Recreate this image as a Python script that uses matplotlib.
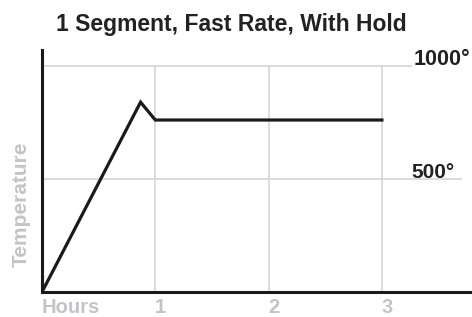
import matplotlib.pyplot as plt

# profile: ramp up, small overshoot, then hold
hours = [0, 0.87, 1.0, 3.0]
temps = [0, 840, 761, 761]

x_ticks = [1, 2, 3]
x_tick_labels = ['1', '2', '3']
y_levels = [500, 1000]
y_labels = ['500°', '1000°']

plt.rcParams['font.family'] = ['Liberation Sans', 'DejaVu Sans']

fig = plt.figure(figsize=(4.72, 3.17), dpi=100)
ax = fig.add_axes([42 / 472, 25 / 317, 430 / 472, 242 / 317])
ax.set_xlim(0, 430 / 113.3)
ax.set_ylim(0, 242 / 0.226)

grid_col = '#d3d6da'
gray = '#c2c4ca'
dark = '#222222'

# grid
ax.vlines(x_ticks, 0, 1000, color=grid_col, lw=1.2, zorder=1)
ax.hlines(1000, 0, 3.27, color=grid_col, lw=1.2, zorder=1)
ax.hlines(500, 0, 3.71, color=grid_col, lw=1.2, zorder=1)

ax.plot(hours, temps, color='#1a1a1a', lw=2.3, solid_joinstyle='miter', zorder=3)

for spine in ['top', 'right']:
    ax.spines[spine].set_visible(False)
for spine in ['left', 'bottom']:
    ax.spines[spine].set_linewidth(2.2)
    ax.spines[spine].set_color('#1a1a1a')
ax.set_xticks([])
ax.set_yticks([])

# level labels
ax.text(3.28, 1000 + 4, y_labels[1], fontsize=15.5, fontweight='bold', color=dark,
        ha='left', va='baseline')
ax.text(3.26, 500 + 4, y_labels[0], fontsize=15, fontweight='bold', color=dark,
        ha='left', va='baseline')

# x labels
for t, lab in zip(x_ticks, x_tick_labels):
    ax.text(t + 0.045, -27, lab, fontsize=14.5, fontweight='bold', color=gray,
            ha='center', va='top')
ax.text(0.0, -27, 'Hours', fontsize=14.5, fontweight='bold', color=gray, ha='left', va='top')

ax.text(-0.18, 390, 'Temperature', fontsize=15, fontweight='bold', color=gray,
        rotation=90, ha='center', va='center')

fig.text(231 / 472, 1 - 31 / 317, '1 Segment, Fast Rate, With Hold', fontsize=16.5,
         fontweight='bold', color=dark, ha='center', va='baseline')

fig.savefig('out.png', dpi=100)
